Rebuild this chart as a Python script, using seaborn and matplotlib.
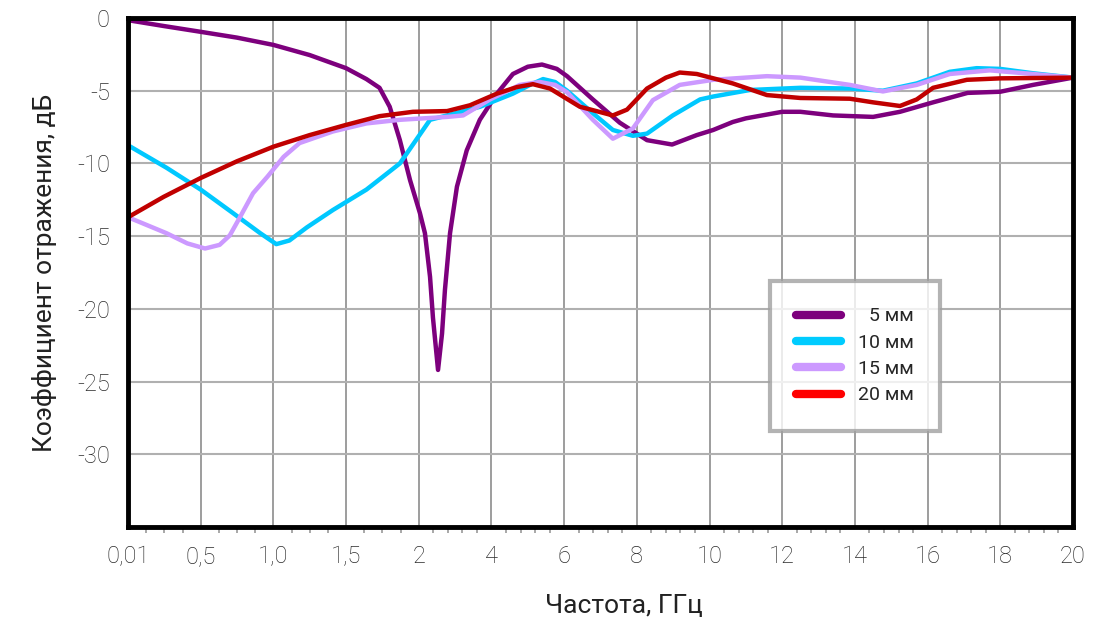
import numpy as np
import pandas as pd
import matplotlib
matplotlib.use('Agg')
import matplotlib.pyplot as plt
import seaborn as sns
from matplotlib.ticker import FixedLocator

# x ticks are spaced evenly, though the values are not
tick_vals = [0.01, 0.5, 1.0, 1.5, 2, 4, 6, 8, 10, 12, 14, 16, 18, 20]
tick_labels = ['0,01', '0,5', '1,0', '1,5', '2', '4', '6', '8', '10', '12', '14', '16', '18', '20']
y_ticks = [0, -5, -10, -15, -20, -25, -30]

labels = ['5 мм', '10 мм', '15 мм', '20 мм']
colors = ['#7d007d', '#00c8ff', '#cc99ff', '#c00000']

f_5 = [0.01, 0.25, 0.5, 0.75, 1.0, 1.25, 1.5, 1.64, 1.73, 1.80, 1.87, 1.94, 2.03, 2.17, 2.31, 2.39,
       2.53, 2.64, 2.72, 2.86, 3.05, 3.32, 3.68, 4.15, 4.59, 5.0, 5.39, 5.8, 6.08, 6.79, 7.53, 8.28,
       8.97, 9.65, 10.1, 10.64, 11.0, 12.0, 12.5, 13.4, 14.5, 15.24, 16.15, 17.1, 18.0, 18.9, 20.0]
s_5 = [-0.15, -0.55, -0.95, -1.35, -1.85, -2.55, -3.45, -4.2, -4.8, -6.1, -8.4, -11.15, -13.4, -14.8, -17.8, -20.6,
       -24.2, -21.7, -18.7, -14.8, -11.6, -9.1, -7.0, -5.2, -3.85, -3.35, -3.2, -3.5, -4.0, -5.6, -7.2, -8.4,
       -8.7, -8.05, -7.7, -7.15, -6.9, -6.45, -6.45, -6.7, -6.8, -6.45, -5.8, -5.15, -5.07, -4.6, -4.1]

f_10 = [0.01, 0.27, 0.5, 0.72, 0.91, 1.02, 1.11, 1.23, 1.41, 1.64, 1.87, 1.96, 2.31, 2.78, 3.69,
        4.59, 5.06, 5.42, 5.75, 6.08, 6.79, 7.34, 7.89, 8.28, 8.99, 9.74, 10.1, 11.11, 12.5, 13.86,
        14.77, 15.7, 16.61, 17.35, 18.0, 18.9, 20.0]
s_10 = [-8.75, -10.3, -11.8, -13.4, -14.8, -15.55, -15.3, -14.4, -13.2, -11.8, -10.0, -8.7, -7.0, -6.7, -6.1,
        -5.2, -4.6, -4.2, -4.4, -5.0, -6.55, -7.7, -8.1, -7.95, -6.7, -5.6, -5.4, -4.95, -4.8, -4.85,
        -5.0, -4.5, -3.7, -3.45, -3.5, -3.8, -4.1]

f_15 = [0.01, 0.27, 0.41, 0.53, 0.63, 0.70, 0.77, 0.86, 0.96, 1.07, 1.18, 1.41, 1.64, 1.87, 2.78, 3.22,
        3.96, 4.78, 5.33, 5.75, 6.08, 6.79, 7.34, 7.89, 8.44, 9.18, 10.1, 11.58, 12.5, 13.86, 14.77, 15.7,
        16.61, 17.71, 18.9, 20.0]
s_15 = [-13.7, -14.8, -15.5, -15.85, -15.6, -14.95, -13.7, -12.05, -10.9, -9.55, -8.6, -7.8, -7.25, -7.0, -6.8, -6.7,
        -5.6, -4.6, -4.4, -4.6, -5.1, -7.0, -8.3, -7.6, -5.65, -4.6, -4.25, -4.0, -4.1, -4.6, -5.05, -4.6,
        -3.85, -3.6, -3.85, -4.1]

f_20 = [0.01, 0.25, 0.5, 0.75, 1.0, 1.25, 1.5, 1.73, 1.96, 2.78, 3.41, 4.15, 4.7, 5.14, 5.61, 6.43,
        7.34, 7.73, 8.28, 8.8, 9.18, 9.65, 10.64, 11.58, 12.5, 13.86, 14.5, 15.24, 15.7, 16.15, 17.08, 18.0,
        20.0]
s_20 = [-13.7, -12.3, -11.0, -9.85, -8.85, -8.05, -7.35, -6.75, -6.45, -6.4, -6.0, -5.2, -4.75, -4.55, -4.85, -6.1,
        -6.7, -6.3, -4.85, -4.1, -3.75, -3.85, -4.5, -5.3, -5.5, -5.55, -5.8, -6.05, -5.6, -4.8, -4.25, -4.15,
        -4.1]

frames = []
for lab, f, s in zip(labels, [f_5, f_10, f_15, f_20], [s_5, s_10, s_15, s_20]):
    frames.append(pd.DataFrame({'freq': f, 'db': s, 'series': lab}))
df = pd.concat(frames, ignore_index=True)

pos = np.arange(len(tick_vals))


def fwd(x):
    return np.interp(x, tick_vals, pos)


def inv(p):
    return np.interp(p, pos, tick_vals)


sns.set_style('white')
plt.rcParams['font.family'] = ['Roboto', 'DejaVu Sans']

fig = plt.figure(figsize=(10.94, 6.19), dpi=100)
ax = fig.add_axes([128 / 1094, 1 - 527 / 619, 945 / 1094, 509 / 619])
ax.set_xscale('function', functions=(fwd, inv))

sns.lineplot(data=df, x='freq', y='db', hue='series', hue_order=labels,
             palette=dict(zip(labels, colors)), linewidth=3.2, sort=False,
             estimator=None, ax=ax, zorder=3)

ax.set_xlim(0.01, 20)
ax.set_ylim(-35, 0)
ax.xaxis.set_major_locator(FixedLocator(tick_vals))
ax.set_xticklabels(tick_labels)
minor = []
for a, b in zip(tick_vals[:-1], tick_vals[1:]):
    n = 4 if b <= 2 else 5
    minor += list(np.linspace(a, b, n + 1)[1:-1])
ax.xaxis.set_minor_locator(FixedLocator(minor))
ax.set_yticks(y_ticks)
ax.set_yticklabels([str(v) for v in y_ticks])

ax.grid(True, which='major', axis='x', color='#8c8c8c', linewidth=1.2)
ax.grid(True, which='major', axis='y', color='#b0b0b0', linewidth=1.5)
for sp in ax.spines.values():
    sp.set_color('black')
    sp.set_linewidth(3.5)
    sp.set_zorder(4)

ax.tick_params(axis='both', which='major', labelsize=17, colors='#9a9a9a', labelcolor='#2a2a2a',
               width=1.5, length=7, direction='out', pad=6)
ax.tick_params(axis='x', which='minor', bottom=True, colors='#9a9a9a', width=1.2, length=4)
for t in ax.get_xticklabels() + ax.get_yticklabels():
    t.set_fontweight('light')

ax.set_xlabel('Частота, ГГц', fontsize=19, color='#222222', labelpad=19, x=0.525)
ax.set_ylabel('Коэффициент отражения, дБ', fontsize=19, color='#222222', labelpad=14)

handles, _ = ax.get_legend_handles_labels()
leg_labels = ['\u20075 мм', '10 мм', '15 мм', '20 мм']
leg = ax.legend(handles, leg_labels, loc='upper left', bbox_to_anchor=(0.679, 0.483),
                fontsize=14, frameon=True, fancybox=False, borderpad=1.35,
                handlelength=2.3, handletextpad=0.88, labelspacing=0.43, borderaxespad=0)
leg.get_frame().set_edgecolor('#a0a0a0')
leg.get_frame().set_linewidth(3)
leg.set_zorder(5)
for h, c in zip(leg.get_lines(), ['#7d007d', '#00ccff', '#cc99ff', '#ff0000']):
    h.set_color(c)
    h.set_linewidth(6)
    h.set_solid_capstyle('round')

fig.savefig('out.png', dpi=100)
